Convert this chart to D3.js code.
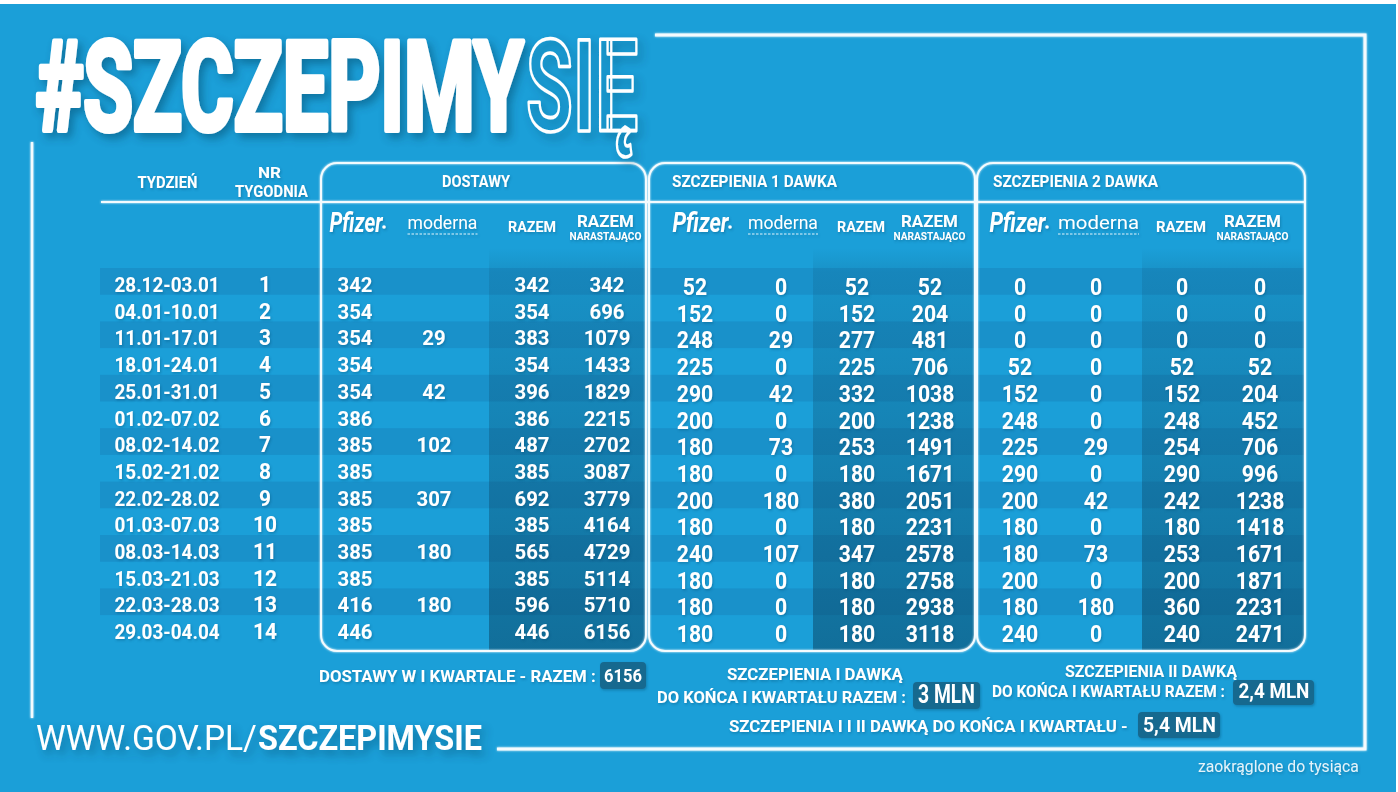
<!DOCTYPE html>
<html><head><meta charset="utf-8">
<script src="https://cdn.jsdelivr.net/npm/d3@7"></script>
<style>
html,body{margin:0;padding:0;background:#1b9fd8;overflow:hidden}
svg{display:block}
text{font-family:Roboto,"Noto Sans",sans-serif}
</style>
</head><body>
<svg id="c" width="1398" height="792"></svg>
<script>
// ---------------- DATA ----------------
const weeks = ["28.12-03.01","04.01-10.01","11.01-17.01","18.01-24.01","25.01-31.01","01.02-07.02","08.02-14.02","15.02-21.02","22.02-28.02","01.03-07.03","08.03-14.03","15.03-21.03","22.03-28.03","29.03-04.04"];
const weekNr = [1,2,3,4,5,6,7,8,9,10,11,12,13,14];

const deliveryPfizer     = [342,354,354,354,354,386,385,385,385,385,385,385,416,446];
const deliveryModerna    = [null,null,29,null,42,null,102,null,307,null,180,null,180,null];
const deliveryTotal      = [342,354,383,354,396,386,487,385,692,385,565,385,596,446];
const deliveryCumulative = [342,696,1079,1433,1829,2215,2702,3087,3779,4164,4729,5114,5710,6156];

const dose1Pfizer     = [52,152,248,225,290,200,180,180,200,180,240,180,180,180];
const dose1Moderna    = [0,0,29,0,42,0,73,0,180,0,107,0,0,0];
const dose1Total      = [52,152,277,225,332,200,253,180,380,180,347,180,180,180];
const dose1Cumulative = [52,204,481,706,1038,1238,1491,1671,2051,2231,2578,2758,2938,3118];

const dose2Pfizer     = [0,0,0,52,152,248,225,290,200,180,180,200,180,240];
const dose2Moderna    = [0,0,0,0,0,0,29,0,42,0,73,0,180,0];
const dose2Total      = [0,0,0,52,152,248,254,290,242,180,253,200,360,240];
const dose2Cumulative = [0,0,0,52,204,452,706,996,1238,1418,1671,1871,2231,2471];

const groupTitles  = ["DOSTAWY","SZCZEPIENIA 1 DAWKA","SZCZEPIENIA 2 DAWKA"];
const columnKeys   = ["pfizer","moderna","razem","narastajaco"];
const leftHeaders  = ["TYDZIEŃ","NR","TYGODNIA"];
const summaryLabels = ["DOSTAWY W I KWARTALE - RAZEM :","SZCZEPIENIA I DAWKĄ","DO KOŃCA I KWARTAŁU RAZEM :","SZCZEPIENIA II DAWKĄ","DO KOŃCA I KWARTAŁU RAZEM :","SZCZEPIENIA I I II DAWKĄ DO KOŃCA I KWARTAŁU -"];
const summaryValues = ["6156","3 MLN","2,4 MLN","5,4 MLN"];
const titleText = ["#SZCZEPIMY","SIĘ"];
const urlText = ["WWW.GOV.PL/","SZCZEPIMYSIE"];
const noteText = "zaokrąglone do tysiąca";

// ---------------- SETUP ----------------
const W = 1398, H = 792;
const svg = d3.select("#c");
const defs = svg.append("defs");

const fTitle = defs.append("filter").attr("id","shT").attr("x","-10%").attr("y","-20%").attr("width","130%").attr("height","150%");
fTitle.append("feDropShadow").attr("dx",4).attr("dy",5).attr("stdDeviation",4).attr("flood-color","#08405f").attr("flood-opacity",0.45);
const fTxt = defs.append("filter").attr("id","shS").attr("x","-10%").attr("y","-30%").attr("width","130%").attr("height","170%");
fTxt.append("feDropShadow").attr("dx",1).attr("dy",1.5).attr("stdDeviation",1).attr("flood-color","#0a4a6e").attr("flood-opacity",0.35);
const fGlow = defs.append("filter").attr("id","glow").attr("x","-5%").attr("y","-5%").attr("width","110%").attr("height","110%");
fGlow.append("feGaussianBlur").attr("stdDeviation",1.2).attr("result","b");
const fm = fGlow.append("feMerge"); fm.append("feMergeNode").attr("in","b"); fm.append("feMergeNode").attr("in","SourceGraphic");

const grad = defs.append("linearGradient").attr("id","darkCol").attr("gradientUnits","userSpaceOnUse")
  .attr("x1",0).attr("x2",0).attr("y1",248).attr("y2",651);
grad.append("stop").attr("offset",0).attr("stop-color","#073a57").attr("stop-opacity",0.0);
grad.append("stop").attr("offset",0.06).attr("stop-color","#073a57").attr("stop-opacity",0.13);
grad.append("stop").attr("offset",1).attr("stop-color","#073a57").attr("stop-opacity",0.48);

// text helper: when a target width is given, the text is measured and scaled horizontally to fit it
function label(g, str, o) {
  const t = g.append("text").text(str)
    .attr("font-size", o.size).attr("font-weight", o.weight || 700)
    .attr("fill", o.fill || "#fff");
  if (o.family) t.attr("font-family", o.family);
  if (o.style) t.attr("font-style", o.style);
  if (o.w) {
    t.attr("x", 0).attr("y", 0).attr("text-anchor", "start");
    const len = t.node().getComputedTextLength() || o.w;
    const sx = o.w / len;
    let x = o.x;
    if (o.anchor === "middle") x = o.x - o.w / 2; else if (o.anchor === "end") x = o.x - o.w;
    t.attr("transform", `translate(${x},${o.y}) scale(${sx},1)`);
  } else {
    t.attr("text-anchor", o.anchor || "start");
    if (o.sx && o.sx !== 1) t.attr("transform", `translate(${o.x},${o.y}) scale(${o.sx},1)`);
    else t.attr("x", o.x).attr("y", o.y);
  }
  return t;
}

// background
svg.append("rect").attr("width",W).attr("height",H).attr("fill","#1b9fd8");
svg.append("rect").attr("width",W).attr("height",4).attr("fill","#ffffff");
svg.append("rect").attr("x",1396).attr("width",2).attr("height",H).attr("fill","#ffffff");

// ---------------- TABLE GEOMETRY ----------------
const y = d3.scaleBand().domain(weeks).range([268, 268 + 14 * 26.7]).paddingInner(0);
const tableLeft = 100, tableRight = 1305;

const layout = [
  {box:[321,646], title:{x:476, w:68, anchor:"middle"}, colX:[355,434,532,607], headX:[358,442.5,532,605.5], darkX:489, dy:24, size:21, sx:0.97,
   cols:[deliveryPfizer, deliveryModerna, deliveryTotal, deliveryCumulative], modW:70, pfW:58, razW:48},
  {box:[649,975], title:{x:672, w:165, anchor:"start"}, colX:[695,781,857,930], headX:[702.5,783,861,929.5], darkX:813, dy:27, size:23, sx:0.92,
   cols:[dose1Pfizer, dose1Moderna, dose1Total, dose1Cumulative], modW:70, pfW:61, razW:48},
  {box:[977,1305], title:{x:993, w:165, anchor:"start"}, colX:[1020,1096,1182,1260], headX:[1019.5,1098.5,1181,1252.5], darkX:1142, dy:27, size:23, sx:0.92,
   cols:[dose2Pfizer, dose2Moderna, dose2Total, dose2Cumulative], modW:81, pfW:61, razW:50}
];
const boxTop = 163, boxBottom = 651, boxR = 16;

// stripes
svg.append("g").selectAll("rect").data(weeks).join("rect")
  .attr("x", tableLeft).attr("width", tableRight - tableLeft)
  .attr("y", d => y(d)).attr("height", y.bandwidth())
  .attr("fill", (d, i) => i % 2 === 0 ? "#1991ca" : "none");

// dark total columns, clipped to boxes
layout.forEach((L, gi) => {
  const cp = defs.append("clipPath").attr("id", "box" + gi);
  cp.append("rect").attr("x", L.box[0]).attr("y", boxTop).attr("width", L.box[1] - L.box[0])
    .attr("height", boxBottom - boxTop).attr("rx", boxR);
  svg.append("rect").attr("clip-path", `url(#box${gi})`)
    .attr("x", L.darkX).attr("y", 248).attr("width", L.box[1] - L.darkX).attr("height", boxBottom - 248)
    .attr("fill", "url(#darkCol)");
});

// lines: boxes, header rule, frame
const lines = svg.append("g").attr("filter","url(#glow)").attr("fill","none").attr("stroke","#f4fbfe");
layout.forEach(L => {
  lines.append("rect").attr("x", L.box[0]).attr("y", boxTop).attr("width", L.box[1] - L.box[0])
    .attr("height", boxBottom - boxTop).attr("rx", boxR).attr("stroke-width", 2);
});
lines.append("line").attr("x1", 101).attr("x2", tableRight).attr("y1", 202).attr("y2", 202).attr("stroke-width", 2);
lines.append("path").attr("d", "M655,35 H1365 V749 H497").attr("stroke-width", 3);
lines.append("line").attr("x1", 32).attr("x2", 32).attr("y1", 142).attr("y2", 718).attr("stroke-width", 2.5);

// ---------------- TEXT ----------------
const T = svg.append("g").attr("filter","url(#shS)");

// left headers
label(T, leftHeaders[0], {x:167.5, y:188, size:17, w:60, anchor:"middle"});
label(T, leftHeaders[1], {x:269.5, y:178, size:15, w:23, anchor:"middle"});
label(T, leftHeaders[2], {x:271.5, y:197, size:16, w:73, anchor:"middle"});

// group headers & sub headers
layout.forEach((L, gi) => {
  label(T, groupTitles[gi], {x:L.title.x, y:187, size:17, w:L.title.w, anchor:L.title.anchor});
  const hx = d3.scaleOrdinal().domain(columnKeys).range(L.headX);
  // Pfizer logotype
  label(T, "Pfizer", {x:hx("pfizer") - 2, y:232, size:27, w:L.pfW - 5, anchor:"middle",
    family:'"Liberation Serif","DejaVu Serif",serif', style:"italic"});
  T.append("circle").attr("cx", hx("pfizer") - 2 + L.pfW / 2 - 1).attr("cy", 227).attr("r", 1.8).attr("fill", "#fff");
  // moderna logotype
  label(T, "moderna", {x:hx("moderna"), y:229, size:19, w:L.modW, anchor:"middle", weight:400});
  T.append("line").attr("x1", hx("moderna") - L.modW / 2).attr("x2", hx("moderna") + L.modW / 2)
    .attr("y1", 234).attr("y2", 234).attr("stroke", "#fff").attr("stroke-width", 1)
    .attr("stroke-dasharray", "2.5,1.5").attr("opacity", 0.85);
  label(T, "RAZEM", {x:hx("razem"), y:232, size:15, w:L.razW, anchor:"middle"});
  label(T, "RAZEM", {x:hx("narastajaco"), y:227, size:17, w:57, anchor:"middle"});
  label(T, "NARASTAJĄCO", {x:hx("narastajaco"), y:240, size:10, w:72, anchor:"middle"});
});

// left columns
T.append("g").selectAll("text").data(weeks).join("text")
  .attr("transform", d => `translate(167,${y(d) + 24}) scale(0.9,1)`)
  .attr("text-anchor", "middle").attr("font-size", 21).attr("font-weight", 700).attr("fill", "#fff")
  .text(d => d);
T.append("g").selectAll("text").data(weekNr).join("text")
  .attr("transform", (d, i) => `translate(265,${y(weeks[i]) + 24}) scale(0.95,1)`)
  .attr("text-anchor", "middle").attr("font-size", 22).attr("font-weight", 700).attr("fill", "#fff")
  .text(d => d);

// value cells
layout.forEach(L => {
  const cx = d3.scaleOrdinal().domain(columnKeys).range(L.colX);
  L.cols.forEach((vals, ci) => {
    T.append("g").selectAll("text").data(vals).join("text")
      .attr("transform", (d, i) => `translate(${cx(columnKeys[ci])},${y(weeks[i]) + L.dy}) scale(${L.sx},1)`)
      .attr("text-anchor", "middle").attr("font-size", L.size).attr("font-weight", 700).attr("fill", "#fff")
      .text(d => d === null ? "" : d);
  });
});

// ---------------- SUMMARY ----------------
function badge(g, str, r, t) {
  g.append("rect").attr("x", r[0]).attr("y", r[1]).attr("width", r[2]).attr("height", r[3]).attr("rx", 4).attr("fill", "#17698f");
  label(g, str, t);
}
label(T, summaryLabels[0], {x:319, y:682, size:17, w:277});
badge(T, summaryValues[0], [600,662,46,27], {x:623, y:682, size:19, w:38, anchor:"middle"});

label(T, summaryLabels[1], {x:815, y:680, size:17, w:176, anchor:"middle"});
label(T, summaryLabels[2], {x:657, y:703, size:17, w:249});
badge(T, summaryValues[1], [913,682,67,27], {x:946.5, y:703, size:25, w:57, anchor:"middle"});

label(T, summaryLabels[3], {x:1151, y:677, size:17, w:172, anchor:"middle"});
label(T, summaryLabels[4], {x:992, y:697, size:17, w:233});
badge(T, summaryValues[2], [1233,680,81,25], {x:1274, y:698, size:21, w:71, anchor:"middle"});

label(T, summaryLabels[5], {x:729, y:732, size:17, w:399});
badge(T, summaryValues[3], [1138,712,82,26], {x:1179.5, y:732, size:21, w:73, anchor:"middle"});

label(T, noteText, {x:1359, y:772, size:17, w:161, anchor:"end", weight:400, fill:"#e4f3fa"});

// ---------------- TITLE & URL ----------------
const TT = svg.append("g").attr("filter","url(#shT)");
label(TT, titleText[0], {x:35.5, y:130, size:124, w:488}).attr("stroke","#fff").attr("stroke-width",5)
  .attr("stroke-linejoin","round").attr("vector-effect","non-scaling-stroke");
label(TT, titleText[1], {x:526, y:131, size:128, w:112}).attr("fill","none").attr("stroke","#fff").attr("stroke-width",3)
  .attr("stroke-linejoin","round").attr("vector-effect","non-scaling-stroke");

label(TT, urlText[0], {x:36, y:750, size:35, w:221, weight:400});
label(TT, urlText[1], {x:258, y:750, size:35, w:224, weight:700});
</script>
</body></html>
